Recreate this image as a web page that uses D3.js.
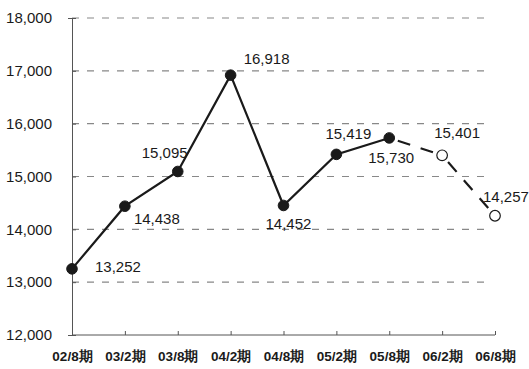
<!DOCTYPE html>
<html>
<head>
<meta charset="utf-8">
<script src="https://cdn.jsdelivr.net/npm/d3@7"></script>
<style>
  body { margin: 0; background: #fff; }
  text { font-family: "Liberation Sans", Arial, sans-serif; fill: #1a1a1a; }
</style>
</head>
<body>
<svg id="chart" width="529" height="369"></svg>
<script>
const periods = ["02/8期", "03/2期", "03/8期", "04/2期", "04/8期", "05/2期", "05/8期", "06/2期", "06/8期"];
const values = [13252, 14438, 15095, 16918, 14452, 15419, 15730, 15401, 14257];
const forecast = [false, false, false, false, false, false, false, true, true];
const yTicks = [12000, 13000, 14000, 15000, 16000, 17000, 18000];
// label offsets relative to each point
const labelDx = [23, 9, -36, 13, -18, -11, -21, -8, -12];
const labelDy = [3, 18, -13, -11, 24, -15, 25, -17, -14];

const svg = d3.select("#chart");
const margin = { left: 72, top: 18, right: 34, bottom: 34 };
const W = 529, H = 369;

const x = d3.scalePoint()
    .domain(periods)
    .range([margin.left, W - margin.right]);

const y = d3.scaleLinear()
    .domain([12000, 18000])
    .range([H - margin.bottom, margin.top]);

// gridlines
svg.append("g")
    .selectAll("line")
    .data(yTicks.filter(d => d > 12000))
    .enter()
    .append("line")
    .attr("x1", margin.left)
    .attr("x2", W - margin.right - 3)
    .attr("y1", d => y(d))
    .attr("y2", d => y(d))
    .attr("stroke", "#888")
    .attr("stroke-width", 1.2)
    .attr("stroke-dasharray", "7,8");

// y axis
const yAxis = svg.append("g")
    .attr("transform", `translate(${margin.left},0)`)
    .call(d3.axisLeft(y).tickValues(yTicks).tickSize(4).tickPadding(16).tickFormat(d3.format(",")));
yAxis.select(".domain").attr("stroke", "#555");
yAxis.selectAll(".tick line").attr("stroke", "#555").attr("x2", 4).attr("x1", 0);
yAxis.selectAll("text").style("font-size", "15px").attr("fill", "#1a1a1a");

// x axis
const xAxis = svg.append("g")
    .attr("transform", `translate(0,${H - margin.bottom})`)
    .call(d3.axisBottom(x).tickSize(-4).tickPadding(16));
xAxis.select(".domain").attr("stroke", "#555").attr("d", `M${margin.left},0H${W - margin.right}`);
xAxis.selectAll(".tick line").attr("stroke", "#555");
xAxis.selectAll("text").style("font-size", "13.5px").style("font-weight", "bold").attr("fill", "#1a1a1a");

const pts = periods.map((p, i) => ({ p: p, v: values[i], f: forecast[i], i: i }));
const lastActual = forecast.indexOf(true) - 1;
const line = d3.line()
    .x(d => x(d.p))
    .y(d => y(d.v));

// solid line for actuals
svg.append("path")
    .datum(pts.slice(0, lastActual + 1))
    .attr("d", line)
    .attr("fill", "none")
    .attr("stroke", "#1a1a1a")
    .attr("stroke-width", 2.2);

// dashed segments for forecast, stopping short of the markers
const fSegs = d3.pairs(pts.slice(lastActual));
svg.append("g")
    .selectAll("line")
    .data(fSegs)
    .enter()
    .append("line")
    .each(function (d) {
        const x1 = x(d[0].p), y1 = y(d[0].v), x2 = x(d[1].p), y2 = y(d[1].v);
        const len = Math.hypot(x2 - x1, y2 - y1);
        const ux = (x2 - x1) / len, uy = (y2 - y1) / len;
        d3.select(this)
            .attr("x1", x1 + ux * 9).attr("y1", y1 + uy * 9)
            .attr("x2", x2 - ux * 9).attr("y2", y2 - uy * 9);
    })
    .attr("stroke", "#1a1a1a")
    .attr("stroke-width", 2.2)
    .attr("stroke-dasharray", "13,11");

svg.append("g")
    .selectAll("circle")
    .data(pts)
    .enter()
    .append("circle")
    .attr("cx", d => x(d.p))
    .attr("cy", d => y(d.v))
    .attr("r", 5.3)
    .attr("fill", d => d.f ? "#fff" : "#1a1a1a")
    .attr("stroke", "#1a1a1a")
    .attr("stroke-width", d => d.f ? 1.2 : 1);

svg.append("g")
    .selectAll("text")
    .data(pts)
    .enter()
    .append("text")
    .attr("x", d => x(d.p) + labelDx[d.i])
    .attr("y", d => y(d.v) + labelDy[d.i])
    .style("font-size", "15px")
    .text(d => d3.format(",")(d.v));
</script>
</body>
</html>
